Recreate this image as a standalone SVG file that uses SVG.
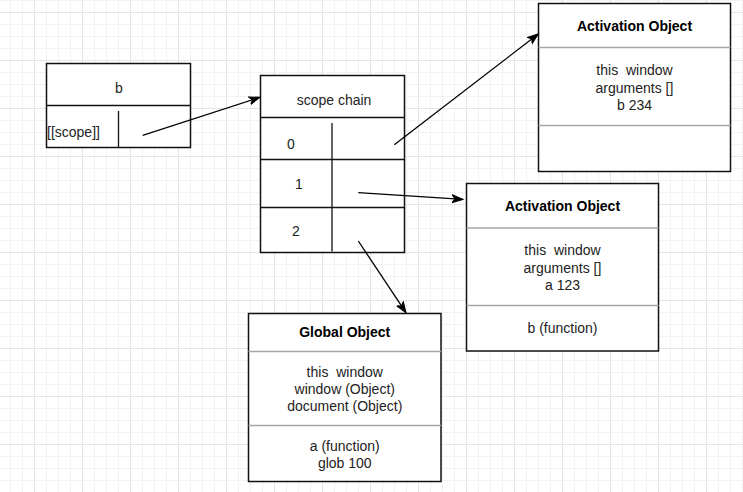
<svg xmlns="http://www.w3.org/2000/svg" width="743" height="492" viewBox="0 0 743 492">
<style>
.box{fill:#fff;stroke:#111;stroke-width:1.5}
.div{stroke:#111;stroke-width:1.3;fill:none}
.gdiv{stroke:#a6a6a6;stroke-width:1.5;fill:none}
.t{font-family:"Liberation Sans",Arial,sans-serif;font-size:14px;fill:#222;white-space:pre}
.c{text-anchor:middle}
.b{font-weight:bold;fill:#000}
.edge{stroke:#000;stroke-width:1.3;fill:none}
</style>
<defs>
<pattern id="grid" x="34" y="12" width="48" height="48" patternUnits="userSpaceOnUse">
<path d="M12.5 0V48M24.5 0V48M36.5 0V48M0 12.5H48M0 24.5H48M0 36.5H48" stroke="#f2f2f2" stroke-width="1"/>
<path d="M0.5 0V48M0 0.5H48" stroke="#e5e5e5" stroke-width="1"/>
</pattern>
<marker id="arr" markerUnits="userSpaceOnUse" markerWidth="14" markerHeight="12" refX="11" refY="5" orient="auto" viewBox="0 0 14 10">
<path d="M0 1 L11 5 L0 9 L3 5 Z" fill="#000" stroke="#000" stroke-width="1"/>
</marker>
</defs>
<rect width="743" height="492" fill="#fff"/>
<rect width="743" height="492" fill="url(#grid)"/>

<g id="node-b">
<rect class="box" x="46.5" y="63.5" width="144" height="84"/>
<path class="div" d="M46.5 105.5H190.5M118.5 111V147.5"/>
<text class="t c" x="119" y="93">b</text>
<text class="t" x="47" y="137">[[scope]]</text>
</g>

<g id="node-scope-chain">
<rect class="box" x="260.5" y="75.5" width="144" height="177"/>
<path class="div" d="M260.5 117.5H404.5M260.5 159.5H404.5M260.5 207.5H404.5M332 123V251.5"/>
<text class="t c" x="334" y="104.5">scope chain</text>
<text class="t c" x="291" y="149">0</text>
<text class="t c" x="299" y="189">1</text>
<text class="t c" x="296" y="236">2</text>
</g>

<g id="node-activation-1">
<rect class="box" x="538.5" y="3.5" width="192" height="168"/>
<path class="gdiv" d="M538.5 47.5H730.5M538.5 125.5H730.5"/>
<text class="t c b" x="634.5" y="31">Activation Object</text>
<text class="t c" x="634.5" y="75">this  window</text>
<text class="t c" x="634.5" y="92.5">arguments []</text>
<text class="t c" x="634.5" y="110">b 234</text>
</g>

<g id="node-activation-2">
<rect class="box" x="466.5" y="183.5" width="192" height="167.5"/>
<path class="gdiv" d="M466.5 228H658.5M466.5 305.5H658.5"/>
<text class="t c b" x="562.5" y="211">Activation Object</text>
<text class="t c" x="562.5" y="255">this  window</text>
<text class="t c" x="562.5" y="272.5">arguments []</text>
<text class="t c" x="562.5" y="289.5">a 123</text>
<text class="t c" x="562.5" y="333">b (function)</text>
</g>

<g id="node-global">
<rect class="box" x="248.5" y="313.5" width="192.5" height="168"/>
<path class="gdiv" d="M248.5 351.5H441M248.5 425.5H441"/>
<text class="t c b" x="344.75" y="337">Global Object</text>
<text class="t c" x="344.75" y="376.5">this  window</text>
<text class="t c" x="344.75" y="393.5">window (Object)</text>
<text class="t c" x="344.75" y="411">document (Object)</text>
<text class="t c" x="344.75" y="450.5">a (function)</text>
<text class="t c" x="344.75" y="467.5">glob 100</text>
</g>

<g id="connectors">
<path class="edge" d="M142.7 135.3L260 97.3" marker-end="url(#arr)"/>
<path class="edge" d="M394.3 144.7L538.3 34" marker-end="url(#arr)"/>
<path class="edge" d="M358.3 192.7L463 199.4" marker-end="url(#arr)"/>
<path class="edge" d="M358.3 241L406 312.7" marker-end="url(#arr)"/>
</g>
</svg>
